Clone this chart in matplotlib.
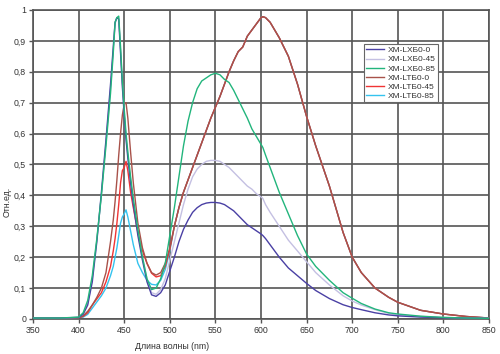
import matplotlib
matplotlib.use('Agg')
import matplotlib.pyplot as plt
from matplotlib.ticker import MultipleLocator, FuncFormatter

plt.rcParams['font.family'] = ['Liberation Sans', 'DejaVu Sans']

# длины волн, нм
wl = [350, 380, 400, 405, 410, 415, 420, 425, 430, 435, 438, 440, 442, 444, 446,
      448, 450, 452, 454, 457, 460, 465, 470, 475, 480, 485, 490, 495, 500, 505,
      510, 515, 520, 525, 530, 535, 540, 545, 550, 555, 560, 565, 570, 575, 580,
      585, 590, 595, 600, 602, 605, 610, 620, 630, 640, 650, 660, 675, 690, 700,
      710, 725, 740, 750, 775, 800, 825, 850]

lx0 = [.003, .003, .005, .015, .045, .12, .25, .41, .58, .76, .88, .96, .975, .97, .86,
       .75, .66, .58, .52, .44, .37, .27, .19, .12, .078, .073, .085, .11, .155, .20,
       .25, .29, .32, .345, .36, .37, .375, .377, .377, .375, .37, .36, .35, .335, .32,
       .305, .295, .285, .275, .27, .26, .24, .20, .165, .14, .115, .092, .066, .046, .037,
       .03, .02, .013, .01, .006, .004, .003, .002]

lx45 = [.003, .003, .005, .017, .05, .13, .255, .40, .57, .745, .87, .955, .975, .972, .87,
        .76, .67, .59, .53, .45, .38, .28, .20, .13, .085, .08, .095, .13, .19, .25,
        .31, .37, .42, .46, .485, .50, .51, .513, .513, .51, .50, .49, .475, .46, .445,
        .43, .42, .405, .395, .39, .37, .345, .30, .255, .22, .185, .15, .11, .075, .058,
        .045, .03, .018, .013, .008, .005, .003, .002]

lx85 = [.003, .003, .006, .02, .06, .14, .26, .40, .56, .73, .86, .96, .975, .98, .88,
        .77, .68, .60, .54, .46, .39, .29, .20, .13, .095, .10, .13, .18, .27, .36,
        .46, .56, .64, .70, .745, .77, .78, .79, .795, .79, .775, .765, .74, .71, .68,
        .65, .615, .59, .565, .555, .53, .49, .41, .34, .27, .21, .17, .125, .085, .067,
        .05, .032, .02, .016, .009, .005, .003, .002]

# люминофорная часть у LT совпадает
lt_tail = [.30, .36, .41, .45, .49, .53, .57, .61, .65, .685, .72, .76, .80, .835, .865, .88,
           .915, .935, .955, .975, .978, .975, .96, .91, .85, .76, .655, .56, .43, .28, .20,
           .15, .10, .07, .054, .028, .016, .008, .003]

lt0 = [.003, .003, .004, .01, .025, .045, .07, .10, .15, .25, .32, .38, .45, .53, .60,
       .66, .695, .70, .65, .54, .44, .31, .23, .18, .15, .142, .15, .18, .23] + lt_tail

lt45 = [.003, .003, .004, .008, .02, .045, .065, .085, .12, .17, .22, .26, .31, .37, .44,
        .48, .49, .51, .48, .41, .36, .28, .22, .18, .148, .136, .14, .17, .225] + lt_tail

lt85 = [.003, .003, .004, .006, .015, .035, .055, .075, .10, .14, .17, .20, .23, .27, .31,
        .33, .34, .353, .33, .285, .24, .18, .15, .125, .112, .11, .125, .16, .22] + lt_tail

names = ['XM-LXБ0-0', 'XM-LXБ0-45', 'XM-LXБ0-85', 'XM-LTБ0-0', 'XM-LTБ0-45', 'XM-LTБ0-85']
series = [lx0, lx45, lx85, lt0, lt45, lt85]
colors = ['#4a40a4', '#c4c0e2', '#22b57c', '#a8524a', '#f03434', '#34c3ef']
zorders = [5, 4, 6, 3, 2, 1]

fig = plt.figure(figsize=(5, 3.54), dpi=100)
ax = fig.add_axes([0.066, 0.099, 0.912, 0.873])

for y, name, c, z in zip(series, names, colors, zorders):
    ax.plot(wl, y, color=c, lw=1.0, label=name, zorder=z)

ax.set_xlim(350, 850)
ax.set_ylim(0, 1)
ax.xaxis.set_major_locator(MultipleLocator(50))
ax.yaxis.set_major_locator(MultipleLocator(0.1))
ax.yaxis.set_major_formatter(FuncFormatter(
    lambda v, p: '0' if abs(v) < 1e-9 else ('1' if abs(v - 1) < 1e-9 else f'{v:.1f}'.replace('.', ','))))
ax.grid(True, color='#555555', lw=1.2, zorder=0)
ax.set_axisbelow(True)
for s in ax.spines.values():
    s.set_color('#555555')
    s.set_linewidth(1.2)
ax.tick_params(labelsize=6.3, colors='#555555', labelcolor='#333333', length=3, width=1, pad=2)

ax.set_ylabel('Отн.ед.', fontsize=6.3, color='#333333')
ax.yaxis.set_label_coords(-0.046, 0.38)
fig.text(0.345, 0.015, 'Длина волны (nm)', fontsize=6.3, color='#333333', ha='center')

leg = ax.legend(loc='upper left', bbox_to_anchor=(0.716, 0.903), fontsize=6,
                handlelength=2.2, handletextpad=0.4, labelspacing=0.15,
                borderpad=0.3, fancybox=False, framealpha=1, edgecolor='#666666')
leg.get_frame().set_linewidth(0.8)
for t in leg.get_texts():
    t.set_color('#333333')

fig.savefig('out.png', dpi=100)
